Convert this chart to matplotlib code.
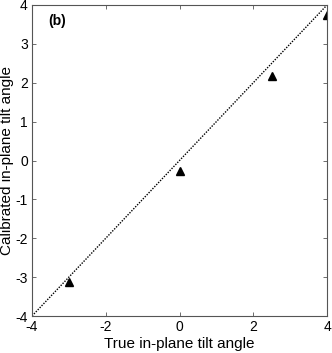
import matplotlib.pyplot as plt
import numpy as np

plt.rcParams['font.family'] = ['Liberation Sans', 'DejaVu Sans']

true_angle = [-3, 0, 2.5, 4]
calib_angle = [-3.12, -0.28, 2.18, 3.74]
ideal = [-4, 4]
ticks = [-4, -3, -2, -1, 0, 1, 2, 3, 4]

fig = plt.figure(figsize=(3.32, 3.53), dpi=100)
ax = fig.add_axes([32 / 332, 1 - 316 / 353, 295 / 332, 311 / 353])

ax.plot(ideal, ideal, color='black', linestyle=(0, (1, 1)), linewidth=1.0)
ax.plot(true_angle, calib_angle, linestyle='none', marker='^', color='black',
        markersize=6)

ax.set_xlim(-4, 4)
ax.set_ylim(-4, 4)
ax.set_xticks([-4, -2, 0, 2, 4])
ax.set_yticks(ticks)
ax.set_xticklabels(['-4', '-2', '0', '2', '4'])
ax.set_yticklabels([str(t) for t in ticks])
ax.tick_params(direction='in', top=True, right=True, length=3, width=0.6,
               colors='#555555', labelcolor='black', labelsize=10, pad=3)
for s in ax.spines.values():
    s.set_color('#555555')
    s.set_linewidth(0.8)

ax.set_xlabel('True in-plane tilt angle', fontsize=11, labelpad=2)
ax.set_ylabel('Calibrated in-plane tilt angle', fontsize=11, labelpad=1)
ax.text(-3.32, 3.58, '(b)', fontsize=10, fontweight='bold', ha='center', va='center')

fig.savefig('out.png', dpi=100)
